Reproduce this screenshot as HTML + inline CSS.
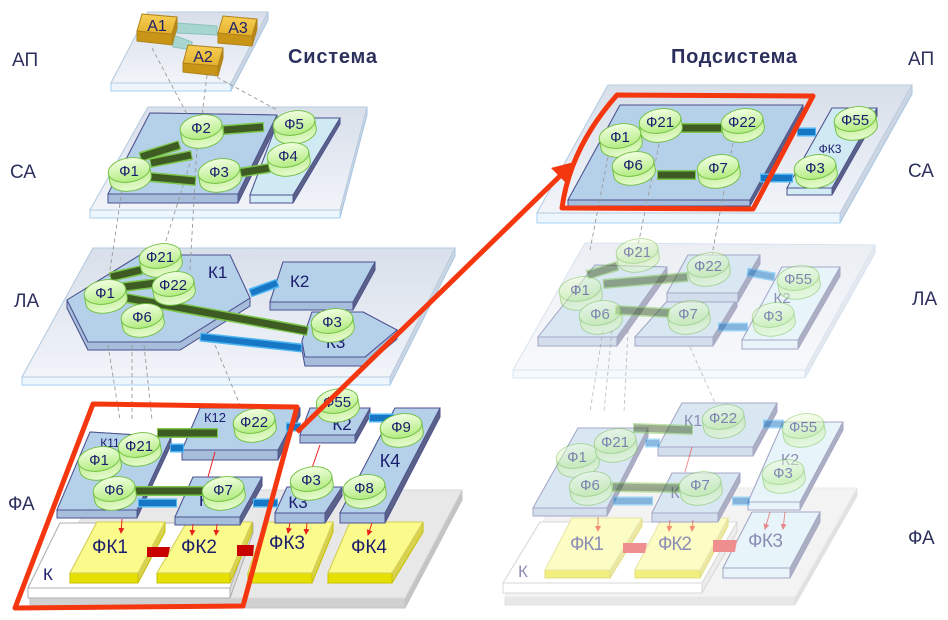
<!DOCTYPE html>
<html><head><meta charset="utf-8"><style>
html,body{margin:0;padding:0;background:#fff;width:948px;height:620px;overflow:hidden}
svg{display:block;font-family:"Liberation Sans","DejaVu Sans",sans-serif}
.pt{fill:url(#pl);stroke:#b7cbe0;stroke-width:1}
.pf{fill:#eef6fd;stroke:#a6d0f2;stroke-width:1}
.ps{fill:#ccd5e1;stroke:#a6c6e2;stroke-width:1}
.bt{fill:#b5d0e9;stroke:#4d5290;stroke-width:1}
.bf{fill:#a6bedb;stroke:#4d5290;stroke-width:1}
.bs{fill:#5c6287;stroke:#4d5290;stroke-width:1}
.lt{fill:#d0eaf4;stroke:#4d5290;stroke-width:1}
.lf{fill:#d3ebf4;stroke:#4d5290;stroke-width:1}
.yt{fill:#fbfb8c;stroke:#d5cf5a;stroke-width:1}
.yf{fill:#e6e000;stroke:#c6c000;stroke-width:1}
.ys{fill:#d8d250;stroke:#c6c000;stroke-width:1}
.wt{fill:#fff;stroke:#b0b0b0;stroke-width:1}
.wf{fill:#fff;stroke:#b0b0b0;stroke-width:1}
.ws{fill:#dcdcdc;stroke:#b0b0b0;stroke-width:1}
.gt{fill:#e8e8e8;stroke:#d8d8d8;stroke-width:1}
.gf{fill:#d0d0d0;stroke:#c4c4c4;stroke-width:1}
.gs{fill:#c4c4c4;stroke:#c4c4c4;stroke-width:1}
.b1{stroke:#7cc64c;stroke-width:10}
.b2{stroke:#3e5b24;stroke-width:7}
.u1{stroke:#4db6f2;stroke-width:9}
.u2{stroke:#1877c4;stroke-width:6}
.dl{stroke:#9a9a9a;stroke-width:0.9;stroke-dasharray:4 3;fill:none}
.rl{stroke:#e82020;stroke-width:1;fill:none}
.ra{stroke:#e82020;stroke-width:1;fill:none;marker-end:url(#ah)}
.f{font-size:15px;fill:#1b1d6e;text-anchor:middle}
.k{fill:#1b1d6e}
.lab{font-size:19px;fill:#2c305d}
</style></head><body>
<svg width="948" height="620" viewBox="0 0 948 620" xmlns="http://www.w3.org/2000/svg">
<defs>
<linearGradient id="pl" x1="0" y1="0" x2="0" y2="1"><stop offset="0" stop-color="#d8dfea"/><stop offset="1" stop-color="#f1f4f9"/></linearGradient>
<linearGradient id="gg" x1="0" y1="0" x2="0" y2="1"><stop offset="0" stop-color="#f2ffe2"/><stop offset="1" stop-color="#b2ec80"/></linearGradient>
<linearGradient id="gs" x1="0" y1="0" x2="0" y2="1"><stop offset="0" stop-color="#b9ea8a"/><stop offset="1" stop-color="#e6fbcf"/></linearGradient>
<linearGradient id="gold" x1="0" y1="0" x2="0" y2="1"><stop offset="0" stop-color="#f6cf55"/><stop offset="1" stop-color="#e3b02c"/></linearGradient>
<g id="cy"><path d="M-21,0 V9 A21,12 0 0 0 21,9 V0 Z" fill="url(#gs)" stroke="#6fbf3f" stroke-width="0.9"/><ellipse rx="21" ry="12" fill="url(#gg)" stroke="#6fbf3f" stroke-width="0.9"/></g>
<marker id="ah" markerWidth="6" markerHeight="6" refX="5" refY="3" orient="auto" markerUnits="userSpaceOnUse"><path d="M0,0 L6,3 L0,6 z" fill="#e82020"/></marker>
</defs>

<!-- ============ LEFT: AP ============ -->
<polygon class="ps" points="148,12 268,12 268,20 231,91 111,91 111,83"/>
<polygon class="pf" points="111,83 231,83 231,91 111,91"/>
<polygon class="pt" points="148,12 268,12 231,83 111,83"/>
<polygon points="177,23 217,26 217,35 177,33" fill="#a6d6cf" stroke="#8cc2bb"/>
<polygon points="173,35 192,42 192,50 173,47" fill="#a6d6cf" stroke="#8cc2bb"/>
<!-- A1 -->
<polygon points="137,31 172,34 172,45 137,41" fill="#c99516" stroke="#b0831a"/>
<polygon points="172,34 177,17 177,28 172,45" fill="#b8881a" stroke="#b0831a"/>
<polygon points="142,14 177,17 172,34 137,31" fill="url(#gold)" stroke="#b0831a"/>
<!-- A3 -->
<polygon points="218,33 252,36 252,46 218,43" fill="#c99516" stroke="#b0831a"/>
<polygon points="252,36 257,19 257,29 252,46" fill="#b8881a" stroke="#b0831a"/>
<polygon points="223,16 257,19 252,36 218,33" fill="url(#gold)" stroke="#b0831a"/>
<!-- A2 -->
<polygon points="183,63 218,66 218,76 183,72" fill="#c99516" stroke="#b0831a"/>
<polygon points="218,66 223,48 223,58 218,76" fill="#b8881a" stroke="#b0831a"/>
<polygon points="188,45 223,48 218,66 183,63" fill="url(#gold)" stroke="#b0831a"/>
<text x="157" y="31" font-size="16" class="k" text-anchor="middle">А1</text>
<text x="238" y="33" font-size="16" class="k" text-anchor="middle">А3</text>
<text x="203" y="62" font-size="16" class="k" text-anchor="middle">А2</text>

<!-- ============ LEFT: CA ============ -->
<polygon class="ps" points="148,107 367,107 367,115 340,218 90,218 90,210"/>
<polygon class="pf" points="90,210 340,210 340,218 90,218"/>
<polygon class="pt" points="148,107 367,107 340,210 90,210"/>
<polygon class="bs" points="150,113 277,115 277,124 238,203 108,203 108,194"/>
<polygon class="bf" points="108,194 238,194 238,203 108,203"/>
<polygon class="bt" points="150,113 277,115 238,194 108,194"/>
<polygon class="bs" points="279,118 340,118 340,124 293,203 250,203 250,195"/>
<polygon class="lf" points="250,195 293,195 293,203 250,203"/>
<polygon class="lt" points="279,118 340,118 293,195 250,195"/>

<!-- ============ LEFT: LA ============ -->
<polygon class="ps" points="93,248 455,248 455,256 390,385 22,385 22,377"/>
<polygon class="pf" points="22,377 390,377 390,385 22,385"/>
<polygon class="pt" points="93,248 455,248 390,377 22,377"/>
<polygon class="bs" points="140,255 230,255 250,298 250,306 180,350 88,350 67,308 67,300"/>
<polygon class="bf" points="67,300 88,342 180,342 250,298 250,306 180,350 88,350 67,308"/>
<polygon class="bt" points="140,255 230,255 250,298 180,342 88,342 67,300"/>
<polygon class="bs" points="283,262 375,262 375,270 353,310 270,310 270,302"/>
<polygon class="bf" points="270,302 353,302 353,310 270,310"/>
<polygon class="bt" points="283,262 375,262 353,302 270,302"/>
<polygon class="bs" points="312,312 363,312 397,330 397,339 365,366 305,366 302,350 302,341"/>
<polygon class="bf" points="302,341 305,357 365,357 397,330 397,339 365,366 305,366 302,350"/>
<polygon class="bt" points="312,312 363,312 397,330 365,357 305,357 302,341"/>
<text x="208" y="278" font-size="17" class="k">К1</text>
<text x="290" y="287" font-size="17" class="k">К2</text>
<text x="326" y="348" font-size="17" class="k">К3</text>

<!-- ============ LEFT: FA ============ -->
<polygon class="gs" points="100,490 462,490 462,500 405,608 30,608 30,598"/>
<polygon class="gf" points="30,598 405,598 405,608 30,608"/>
<polygon class="gt" points="100,490 462,490 405,598 30,598"/>
<polygon class="ws" points="60,523 253,523 253,533 230,598 28,598 28,588"/>
<polygon class="wf" points="28,588 230,588 230,598 28,598"/>
<polygon class="wt" points="60,523 253,523 230,588 28,588"/>
<text x="43" y="580" font-size="17" class="k">К</text>
<polygon class="ys" points="97,522 165,522 165,532 138,583 70,583 70,573"/>
<polygon class="yf" points="70,573 138,573 138,583 70,583"/>
<polygon class="yt" points="97,522 165,522 138,573 70,573"/>
<polygon class="ys" points="187,522 252,522 252,532 230,583 157,583 157,573"/>
<polygon class="yf" points="157,573 230,573 230,583 157,583"/>
<polygon class="yt" points="187,522 252,522 230,573 157,573"/>
<polygon class="ys" points="265,522 333,522 333,532 312,583 248,583 248,573"/>
<polygon class="yf" points="248,573 312,573 312,583 248,583"/>
<polygon class="yt" points="265,522 333,522 312,573 248,573"/>
<polygon class="ys" points="350,522 423,522 423,532 392,583 328,583 328,573"/>
<polygon class="yf" points="328,573 392,573 392,583 328,583"/>
<polygon class="yt" points="350,522 423,522 392,573 328,573"/>
<polygon points="147,547 170,547 168,557 147,557" fill="#c80000"/>
<polygon points="237,545 254,545 253,556 237,556" fill="#c80000"/>
<text x="92" y="553" font-size="19" class="k" textLength="36">ФК1</text>
<text x="181" y="553" font-size="19" class="k" textLength="36">ФК2</text>
<text x="269" y="549" font-size="19" class="k" textLength="36">ФК3</text>
<text x="351" y="553" font-size="19" class="k" textLength="36">ФК4</text>

<polygon class="bs" points="90,432 171,437 171,445 137,518 57,518 57,510"/>
<polygon class="bf" points="57,510 137,510 137,518 57,518"/>
<polygon class="bt" points="90,432 171,437 137,510 57,510"/>
<polygon class="bs" points="200,408 300,408 300,416 278,460 182,460 182,450"/>
<polygon class="bf" points="182,450 278,450 278,460 182,460"/>
<polygon class="bt" points="200,408 300,408 278,450 182,450"/>
<polygon class="bs" points="193,477 262,477 262,486 240,525 175,525 175,517"/>
<polygon class="bf" points="175,517 240,517 240,525 175,525"/>
<polygon class="bt" points="193,477 262,477 240,517 175,517"/>
<polygon class="bs" points="310,408 370,408 370,416 355,443 300,443 300,435"/>
<polygon class="bf" points="300,435 355,435 355,443 300,443"/>
<polygon class="bt" points="310,408 370,408 355,435 300,435"/>
<polygon class="bs" points="287,487 342,487 342,496 325,523 275,523 275,513"/>
<polygon class="bf" points="275,513 325,513 325,523 275,523"/>
<polygon class="bt" points="287,487 342,487 325,513 275,513"/>
<polygon class="bs" points="395,408 440,408 440,417 385,523 340,523 340,513"/>
<polygon class="bf" points="340,513 385,513 385,523 340,523"/>
<polygon class="bt" points="395,408 440,408 385,513 340,513"/>
<text x="110" y="447" font-size="12" class="k" text-anchor="middle">К11</text>
<text x="215" y="422" font-size="13" class="k" text-anchor="middle">К12</text>
<text x="342" y="430" font-size="17" class="k" text-anchor="middle">К2</text>
<text x="390" y="467" font-size="18" class="k" text-anchor="middle">К4</text>
<text x="204" y="506" font-size="17" class="k" text-anchor="middle">К</text>
<text x="298" y="508" font-size="17" class="k" text-anchor="middle">К3</text>

<!-- ============ RIGHT: CA ============ -->
<polygon class="ps" points="608,85 912,85 912,94 840,223 537,223 537,213"/>
<polygon class="pf" points="537,213 840,213 840,223 537,223"/>
<polygon class="pt" points="608,85 912,85 840,213 537,213"/>
<polygon class="bs" points="620,105 803,105 803,112 750,206 568,206 568,200"/>
<polygon class="bf" points="568,200 750,200 750,206 568,206"/>
<polygon class="bt" points="620,105 803,105 750,200 568,200"/>
<polygon class="bs" points="832,108 877,108 877,116 832,195 787,195 787,188"/>
<polygon class="lf" points="787,188 832,188 832,195 787,195"/>
<polygon class="lt" points="832,108 877,108 832,188 787,188"/>
<text x="830" y="153" font-size="12" class="k" text-anchor="middle">ФК3</text>

<!-- ============ RIGHT: LA (faded) ============ -->
<g opacity="0.5">
<polygon class="ps" points="585,243 875,245 875,253 805,378 513,378 513,370"/>
<polygon class="pf" points="513,370 805,370 805,378 513,378"/>
<polygon class="pt" points="585,243 875,245 805,370 513,370"/>
<polygon class="bs" points="595,265 667,267 667,276 617,346 538,346 538,337"/>
<polygon class="bf" points="538,337 617,337 617,346 538,346"/>
<polygon class="bt" points="595,265 667,267 617,337 538,337"/>
<polygon class="bs" points="670,298 737,298 737,307 713,346 635,346 635,337"/>
<polygon class="bf" points="635,337 713,337 713,346 635,346"/>
<polygon class="bt" points="670,298 737,298 713,337 635,337"/>
<polygon class="bs" points="688,255 760,255 760,264 738,302 667,302 667,293"/>
<polygon class="bf" points="667,293 738,293 738,302 667,302"/>
<polygon class="bt" points="688,255 760,255 738,293 667,293"/>
<polygon class="bs" points="782,267 840,267 840,276 798,349 742,349 742,340"/>
<polygon class="lf" points="742,340 798,340 798,349 742,349"/>
<polygon class="lt" points="782,267 840,267 798,340 742,340"/>
<text x="782" y="303" font-size="15" class="k" text-anchor="middle">К2</text>
</g>

<!-- ============ RIGHT: FA (faded) ============ -->
<g opacity="0.5">
<polygon class="gs" points="560,488 857,488 857,496 795,605 505,605 505,597"/>
<polygon class="gf" points="505,597 795,597 795,605 505,605"/>
<polygon class="gt" points="560,488 857,488 795,597 505,597"/>
<polygon class="ws" points="540,522 737,522 737,532 702,593 503,593 503,583"/>
<polygon class="wf" points="503,583 702,583 702,593 503,593"/>
<polygon class="wt" points="540,522 737,522 702,583 503,583"/>
<text x="518" y="577" font-size="17" class="k">К</text>
<polygon class="ys" points="572,518 642,518 642,526 610,578 545,578 545,570"/>
<polygon class="yf" points="545,570 610,570 610,578 545,578"/>
<polygon class="yt" points="572,518 642,518 610,570 545,570"/>
<polygon class="ys" points="662,518 728,518 728,526 700,578 635,578 635,570"/>
<polygon class="yf" points="635,570 700,570 700,578 635,578"/>
<polygon class="yt" points="662,518 728,518 700,570 635,570"/>
<polygon class="bs" points="752,512 820,512 820,522 790,578 723,578 723,568"/>
<polygon class="lf" points="723,568 790,568 790,578 723,578"/>
<polygon class="lt" points="752,512 820,512 790,568 723,568"/>
<polygon points="623,543 647,543 645,553 623,553" fill="#e02020"/>
<polygon points="713,540 737,540 735,552 713,552" fill="#e02020"/>
<text x="570" y="550" font-size="19" class="k" textLength="34">ФК1</text>
<text x="658" y="550" font-size="19" class="k" textLength="34">ФК2</text>
<text x="748" y="547" font-size="19" class="k" textLength="35">ФК3</text>
<polygon class="bs" points="578,428 648,428 648,437 607,516 533,516 533,508"/>
<polygon class="bf" points="533,508 607,508 607,516 533,516"/>
<polygon class="bt" points="578,428 648,428 607,508 533,508"/>
<polygon class="bs" points="682,403 777,403 777,412 753,456 658,456 658,447"/>
<polygon class="bf" points="658,447 753,447 753,456 658,456"/>
<polygon class="bt" points="682,403 777,403 753,447 658,447"/>
<polygon class="bs" points="672,473 740,473 740,482 718,522 652,522 652,513"/>
<polygon class="bf" points="652,513 718,513 718,522 652,522"/>
<polygon class="bt" points="672,473 740,473 718,513 652,513"/>
<polygon class="bs" points="783,422 843,422 843,430 800,510 748,510 748,502"/>
<polygon class="lf" points="748,502 800,502 800,510 748,510"/>
<polygon class="lt" points="783,422 843,422 800,502 748,502"/>
<text x="693" y="426" font-size="16" class="k" text-anchor="middle">К1</text>
<text x="790" y="465" font-size="16" class="k" text-anchor="middle">К2</text>
<text x="675" y="498" font-size="16" class="k" text-anchor="middle">К</text>
</g>

<!-- ============ DASHED LINES ============ -->
<g class="dl">
<line x1="152" y1="48" x2="188" y2="116"/>
<line x1="207" y1="75" x2="202" y2="116"/>
<line x1="211" y1="74" x2="277" y2="110"/>
<line x1="122" y1="190" x2="107" y2="290"/>
<line x1="192" y1="157" x2="163" y2="250"/>
<line x1="197" y1="147" x2="190" y2="270"/>
<line x1="108" y1="345" x2="120" y2="420"/>
<line x1="132" y1="345" x2="132" y2="420"/>
<line x1="144" y1="345" x2="152" y2="420"/>
<line x1="215" y1="345" x2="242" y2="410"/>
<line x1="608" y1="157" x2="590" y2="250"/>
<line x1="662" y1="130" x2="637" y2="250"/>
<line x1="733" y1="143" x2="712" y2="255"/>
</g>
<g class="dl" opacity="0.6">
<line x1="603" y1="330" x2="590" y2="412"/>
<line x1="612" y1="330" x2="604" y2="412"/>
<line x1="628" y1="330" x2="624" y2="412"/>
<line x1="690" y1="347" x2="716" y2="405"/>
</g>

<!-- ============ BARS & ARROWS ============ -->
<g>
<line class="b1" x1="140" y1="157" x2="180" y2="145"/><line class="b2" x1="141" y1="157" x2="179" y2="145"/>
<line class="b1" x1="150" y1="163" x2="192" y2="155"/><line class="b2" x1="151" y1="163" x2="191" y2="155"/>
<line class="b1" x1="150" y1="177" x2="196" y2="181"/><line class="b2" x1="151" y1="177" x2="195" y2="181"/>
<line class="b1" x1="238" y1="173" x2="270" y2="168"/><line class="b2" x1="239" y1="173" x2="269" y2="168"/>
<line class="b1" x1="223" y1="130" x2="264" y2="127"/><line class="b2" x1="224" y1="130" x2="263" y2="127"/>

<line class="u1" x1="278" y1="283" x2="250" y2="293"/><line class="u2" x1="277" y1="283" x2="251" y2="293"/>
<line class="u1" x1="200" y1="337" x2="302" y2="348"/><line class="u2" x1="201" y1="337" x2="301" y2="348"/>
<line class="b1" x1="110" y1="277" x2="142" y2="270"/><line class="b2" x1="111" y1="277" x2="141" y2="270"/>
<line class="b1" x1="123" y1="287" x2="157" y2="283"/><line class="b2" x1="124" y1="287" x2="156" y2="283"/>
<line class="b1" x1="120" y1="297" x2="308" y2="331"/><line class="b2" x1="121" y1="297" x2="307" y2="331"/>

<line class="u1" x1="170" y1="448" x2="184" y2="448"/><line class="u2" x1="171" y1="448" x2="183" y2="448"/>
<line class="u1" x1="138" y1="503" x2="177" y2="503"/><line class="u2" x1="139" y1="503" x2="176" y2="503"/>
<line class="u1" x1="253" y1="503" x2="278" y2="503"/><line class="u2" x1="254" y1="503" x2="277" y2="503"/>
<line class="u1" x1="286" y1="427" x2="301" y2="427"/><line class="u2" x1="287" y1="427" x2="300" y2="427"/>
<line class="u1" x1="369" y1="418" x2="394" y2="418"/><line class="u2" x1="370" y1="418" x2="393" y2="418"/>
<line class="b1" x1="157" y1="433" x2="218" y2="433"/><line class="b2" x1="158" y1="433" x2="217" y2="433"/>
<line class="b1" x1="135" y1="491" x2="204" y2="491"/><line class="b2" x1="136" y1="491" x2="203" y2="491"/>
<line class="rl" x1="215" y1="452" x2="208" y2="477"/>
<line class="rl" x1="320" y1="445" x2="312" y2="468"/>
<line class="ra" x1="122" y1="519" x2="121" y2="533"/>
<line class="ra" x1="193" y1="524" x2="192" y2="535"/>
<line class="ra" x1="217" y1="524" x2="216" y2="535"/>
<line class="ra" x1="290" y1="523" x2="288" y2="533"/>
<line class="ra" x1="307" y1="523" x2="306" y2="534"/>
<line class="ra" x1="372" y1="523" x2="368" y2="535"/>

<line class="b1" x1="680" y1="128" x2="722" y2="128"/><line class="b2" x1="681" y1="128" x2="721" y2="128"/>
<line class="b1" x1="657" y1="175" x2="696" y2="175"/><line class="b2" x1="658" y1="175" x2="695" y2="175"/>
<line class="u1" x1="797" y1="132" x2="816" y2="132"/><line class="u2" x1="798" y1="132" x2="815" y2="132"/>
<line class="u1" x1="760" y1="178" x2="793" y2="178"/><line class="u2" x1="761" y1="178" x2="792" y2="178"/>
</g>

<g opacity="0.5">
<line class="b1" x1="587" y1="275" x2="618" y2="266"/><line class="b2" x1="588" y1="275" x2="617" y2="266"/>
<line class="b1" x1="603" y1="284" x2="688" y2="277"/><line class="b2" x1="604" y1="284" x2="687" y2="277"/>
<line class="b1" x1="615" y1="310" x2="670" y2="313"/><line class="b2" x1="616" y1="310" x2="669" y2="313"/>
<line class="u1" x1="747" y1="272" x2="775" y2="277"/><line class="u2" x1="748" y1="272" x2="774" y2="277"/>
<line class="u1" x1="718" y1="327" x2="748" y2="327"/><line class="u2" x1="719" y1="327" x2="747" y2="327"/>

<line class="b1" x1="633" y1="428" x2="693" y2="430"/><line class="b2" x1="634" y1="428" x2="692" y2="430"/>
<line class="b1" x1="612" y1="487" x2="680" y2="488"/><line class="b2" x1="613" y1="487" x2="679" y2="488"/>
<line class="u1" x1="645" y1="443" x2="660" y2="443"/><line class="u2" x1="646" y1="443" x2="659" y2="443"/>
<line class="u1" x1="613" y1="501" x2="653" y2="501"/><line class="u2" x1="614" y1="501" x2="652" y2="501"/>
<line class="u1" x1="732" y1="501" x2="750" y2="501"/><line class="u2" x1="733" y1="501" x2="749" y2="501"/>
<line class="u1" x1="763" y1="424" x2="784" y2="424"/><line class="u2" x1="764" y1="424" x2="783" y2="424"/>
<line class="rl" x1="692" y1="447" x2="685" y2="472"/>
<line class="ra" x1="598" y1="517" x2="598" y2="531"/>
<line class="ra" x1="670" y1="520" x2="669" y2="531"/>
<line class="ra" x1="693" y1="520" x2="692" y2="531"/>
<line class="ra" x1="770" y1="512" x2="765" y2="529"/>
<line class="ra" x1="785" y1="512" x2="783" y2="529"/>
</g>

<!-- ============ CYLINDERS ============ -->
<use href="#cy" transform="translate(201,127) rotate(-10)"/><text class="f" x="201" y="133">Ф2</text>
<use href="#cy" transform="translate(294,123) rotate(-10)"/><text class="f" x="294" y="129">Ф5</text>
<use href="#cy" transform="translate(288,155) rotate(-10)"/><text class="f" x="288" y="161">Ф4</text>
<use href="#cy" transform="translate(219,171) rotate(-10)"/><text class="f" x="219" y="177">Ф3</text>
<use href="#cy" transform="translate(129,170) rotate(-10)"/><text class="f" x="129" y="176">Ф1</text>

<use href="#cy" transform="translate(160,256) rotate(-10)"/><text class="f" x="160" y="262">Ф21</text>
<use href="#cy" transform="translate(173,284) rotate(-10)"/><text class="f" x="173" y="290">Ф22</text>
<use href="#cy" transform="translate(105,292) rotate(-10)"/><text class="f" x="105" y="298">Ф1</text>
<use href="#cy" transform="translate(142,316) rotate(-10)"/><text class="f" x="142" y="322">Ф6</text>
<use href="#cy" transform="translate(332,321) rotate(-10)"/><text class="f" x="332" y="327">Ф3</text>

<use href="#cy" transform="translate(337,401) rotate(-10)"/><text class="f" x="337" y="407">Ф55</text>
<use href="#cy" transform="translate(254,421) rotate(-10)"/><text class="f" x="254" y="427">Ф22</text>
<use href="#cy" transform="translate(99,459) rotate(-10)"/><text class="f" x="99" y="465">Ф1</text>
<use href="#cy" transform="translate(139,445) rotate(-10)"/><text class="f" x="139" y="451">Ф21</text>
<use href="#cy" transform="translate(114,489) rotate(-10)"/><text class="f" x="114" y="495">Ф6</text>
<use href="#cy" transform="translate(223,489) rotate(-10)"/><text class="f" x="223" y="495">Ф7</text>
<use href="#cy" transform="translate(311,479) rotate(-10)"/><text class="f" x="311" y="485">Ф3</text>
<use href="#cy" transform="translate(364,487) rotate(-10)"/><text class="f" x="364" y="493">Ф8</text>
<use href="#cy" transform="translate(401,426) rotate(-10)"/><text class="f" x="401" y="432">Ф9</text>

<use href="#cy" transform="translate(660,121) rotate(-10)"/><text class="f" x="660" y="127">Ф21</text>
<use href="#cy" transform="translate(620,136) rotate(-10)"/><text class="f" x="620" y="142">Ф1</text>
<use href="#cy" transform="translate(742,121) rotate(-10)"/><text class="f" x="742" y="127">Ф22</text>
<use href="#cy" transform="translate(633,164) rotate(-10)"/><text class="f" x="633" y="170">Ф6</text>
<use href="#cy" transform="translate(718,167) rotate(-10)"/><text class="f" x="718" y="173">Ф7</text>
<use href="#cy" transform="translate(855,119) rotate(-10)"/><text class="f" x="855" y="125">Ф55</text>
<use href="#cy" transform="translate(815,167) rotate(-10)"/><text class="f" x="815" y="173">Ф3</text>

<g opacity="0.5">
<use href="#cy" transform="translate(637,251) rotate(-10)"/><text class="f" x="637" y="257">Ф21</text>
<use href="#cy" transform="translate(708,265) rotate(-10)"/><text class="f" x="708" y="271">Ф22</text>
<use href="#cy" transform="translate(580,289) rotate(-10)"/><text class="f" x="580" y="295">Ф1</text>
<use href="#cy" transform="translate(600,313) rotate(-10)"/><text class="f" x="600" y="319">Ф6</text>
<use href="#cy" transform="translate(688,313) rotate(-10)"/><text class="f" x="688" y="319">Ф7</text>
<use href="#cy" transform="translate(798,278) rotate(-10)"/><text class="f" x="798" y="284">Ф55</text>
<use href="#cy" transform="translate(773,315) rotate(-10)"/><text class="f" x="773" y="321">Ф3</text>
</g>
<g opacity="0.5">
<use href="#cy" transform="translate(723,417) rotate(-10)"/><text class="f" x="723" y="423">Ф22</text>
<use href="#cy" transform="translate(803,426) rotate(-10)"/><text class="f" x="803" y="432">Ф55</text>
<use href="#cy" transform="translate(577,456) rotate(-10)"/><text class="f" x="577" y="462">Ф1</text>
<use href="#cy" transform="translate(615,441) rotate(-10)"/><text class="f" x="615" y="447">Ф21</text>
<use href="#cy" transform="translate(590,484) rotate(-10)"/><text class="f" x="590" y="490">Ф6</text>
<use href="#cy" transform="translate(700,484) rotate(-10)"/><text class="f" x="700" y="490">Ф7</text>
<use href="#cy" transform="translate(783,472) rotate(-10)"/><text class="f" x="783" y="478">Ф3</text>
</g>

<!-- ============ RED OUTLINES & ARROW ============ -->
<polygon points="93,404 297,407 243,606 15,608" fill="none" stroke="#f5370f" stroke-width="5" stroke-linejoin="round"/>
<path d="M617,95 L813,96 L753,209 L562,208 Q570,148 617,95 Z" fill="none" stroke="#f5370f" stroke-width="5" stroke-linejoin="round"/>
<line x1="297" y1="432" x2="560" y2="176" stroke="#f5370f" stroke-width="5"/>
<polygon points="574,162 567,184 551,168" fill="#f5370f"/>

<!-- ============ TITLES & LAYER LABELS ============ -->
<text x="288" y="63" font-size="20" font-weight="bold" fill="#2c305d" textLength="89">Система</text>
<text x="671" y="63" font-size="20" font-weight="bold" fill="#2c305d" textLength="126">Подсистема</text>
<text class="lab" x="12" y="66">АП</text>
<text class="lab" x="10" y="178">СА</text>
<text class="lab" x="14" y="307">ЛА</text>
<text class="lab" x="8" y="510">ФА</text>
<text class="lab" x="908" y="65">АП</text>
<text class="lab" x="908" y="177">СА</text>
<text class="lab" x="912" y="305">ЛА</text>
<text class="lab" x="908" y="544">ФА</text>
</svg>
</body></html>
